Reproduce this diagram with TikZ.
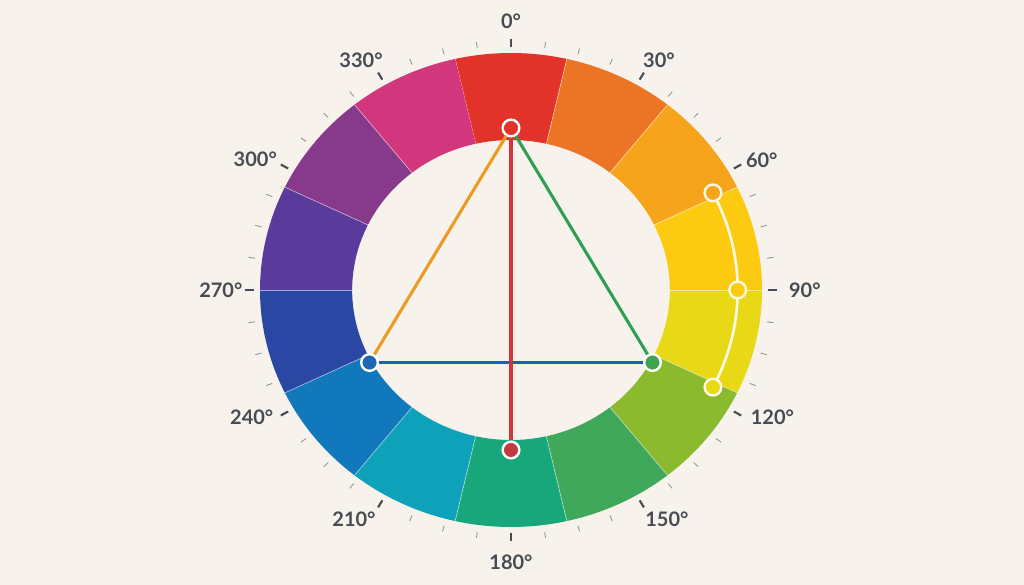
\documentclass[tikz,border=0pt]{standalone}
\usepackage{fontspec}
\setmainfont{Lato}
\usepackage{xcolor}
\usepackage{tikz}

\definecolor{paper}{HTML}{F7F3EC}
\definecolor{ink}{HTML}{474C52}
\definecolor{cream}{HTML}{FFF9E2}
\definecolor{sRed}{HTML}{E2332A}
\definecolor{sOrange}{HTML}{EB7425}
\definecolor{sAmber}{HTML}{F5A41B}
\definecolor{sYellow}{HTML}{FDCA12}
\definecolor{sLemon}{HTML}{E8D816}
\definecolor{sLime}{HTML}{8CBA2F}
\definecolor{sGreen}{HTML}{3FA85A}
\definecolor{sJade}{HTML}{17A77A}
\definecolor{sCyan}{HTML}{0DA2BA}
\definecolor{sBlue}{HTML}{1278BC}
\definecolor{sNavy}{HTML}{2A47A3}
\definecolor{sIndigo}{HTML}{5A3A9B}
\definecolor{sViolet}{HTML}{873A8C}
\definecolor{sMagenta}{HTML}{D2367D}
\definecolor{nRed}{HTML}{E3322B}
\definecolor{nBlue}{HTML}{1F66B3}
\definecolor{nGreen}{HTML}{3FA350}
\definecolor{nBrick}{HTML}{C23A3E}
\definecolor{lOrange}{HTML}{EE9A1E}
\definecolor{lGreen}{HTML}{2E9E55}
\definecolor{lBlue}{HTML}{1E60B0}
\definecolor{lRed}{HTML}{D3363D}

\begin{document}
\begin{tikzpicture}[x=0.75pt, y=0.75pt,
	dot/.style={circle, draw=white, line width=1.8pt, minimum size=12.5pt, inner sep=0pt},
	adot/.style={dot, draw=cream},
	link/.style={line width=2.3pt},
	lbl/.style={font=\fontsize{15}{18}\selectfont\bfseries, text=ink}]
	\useasboundingbox[fill=paper] (-511,-295) rectangle (513,290);
	\begin{scope}[xscale=1.059]
	% ring
	\foreach \c [count=\i from 0] in {sRed,sOrange,sAmber,sYellow,sLemon,sLime,sGreen,sJade,sCyan,sBlue,sNavy,sIndigo,sViolet,sMagenta} {
		\pgfmathsetmacro\a{90-\i*360/14+180/14}
		\pgfmathsetmacro\b{\a-360/14}
		\fill[\c] (\a:237) arc[start angle=\a, end angle=\b, radius=237] -- (\b:150) arc[start angle=\b, end angle=\a, radius=150] -- cycle;
		\draw[white, opacity=.55, line width=.5pt] (\a:150) -- (\a:237);
	}
	% ticks
	\foreach \t in {0,7.5,...,352.5}
		\draw[black!40, line width=.7pt] (90-\t:244) -- (90-\t:250);
	\foreach \t in {0,30,...,330}
		\draw[ink, line width=1.6pt] (90-\t:243) -- (90-\t:251);
	% labels: value/angle/radius
	\foreach \t/\p/\r in {0/0/268.5, 30/31.3/269, 60/61.3/270, 90/90/277.5, 120/117.2/277.5, 150/147.3/272.5,
		180/180/272, 210/212.9/273, 240/242.5/276, 270/270/274, 300/298.4/274.5, 330/328.3/269.5}
		\node[lbl] (l\t) at (90-\p:\r) {\t°};
	% triad
	\node[dot, fill=nRed] (top) at (90:162) {};
	\node[dot, fill=nBlue] (lft) at (208.5:152) {};
	\node[dot, fill=nGreen] (rgt) at (-28.5:152) {};
	\node[dot, fill=nBrick] (bot) at (-90:160) {};
	\draw[link, lOrange] (top) -- (lft);
	\draw[link, lGreen] (top) -- (rgt);
	\draw[link, lBlue] (lft) -- (rgt);
	\draw[link, lRed] (top) -- (bot);
	% analogous
	\path (27:214) coordinate (p1) (0:214) coordinate (p2) (-27:214) coordinate (p3);
	\draw[line width=2pt, cream] (p1) arc[start angle=27, end angle=-27, radius=214];
	\node[adot, fill=sAmber] (m1) at (p1) {};
	\node[adot, fill=sYellow] (m2) at (p2) {};
	\node[adot, fill=sLemon] (m3) at (p3) {};
	\end{scope}
\end{tikzpicture}
\end{document}
